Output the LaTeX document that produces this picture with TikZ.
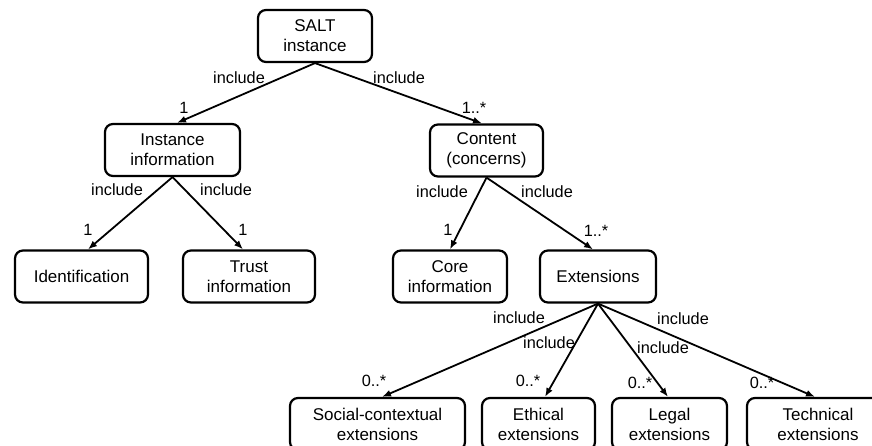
\documentclass[tikz,border=0pt]{standalone}
\usepackage{fontspec}
\setmainfont{Liberation Sans}
\usetikzlibrary{arrows.meta}
\begin{document}
\begin{tikzpicture}[x=1pt,y=-1pt,
  box/.style={draw, line width=2.2pt, rounded corners=8pt, align=center,
    font=\fontsize{17}{20}\selectfont, minimum height=52pt, inner sep=0pt},
  conn/.style={-{Latex[length=9pt,width=7pt]}, line width=1.8pt},
  lbl/.style={font=\fontsize{16.3}{19}\selectfont, inner sep=0pt}]
\useasboundingbox (0,0) rectangle (872,446);
\clip (0,0) rectangle (872,446);

% tree nodes
\node[box, minimum width=114pt] (salt) at (315,36) {SALT\\instance};
\node[box, minimum width=135pt] (inst) at (172.5,150) {Instance\\information};
\node[box, minimum width=113pt] (cont) at (486.5,150.5) {Content\\(concerns)};
\node[box, minimum width=133pt] (ident) at (81.5,276.5) {Identification};
\node[box, minimum width=132pt] (trust) at (249,276.5) {Trust\\information};
\node[box, minimum width=114pt] (core) at (450,276.5) {Core\\information};
\node[box, minimum width=116pt] (ext) at (598,276.5) {Extensions};
\node[box, minimum width=175pt] (soc) at (377.5,424) {Social-contextual\\extensions};
\node[box, minimum width=113pt] (eth) at (538.5,424) {Ethical\\extensions};
\node[box, minimum width=115pt] (leg) at (669.5,424) {Legal\\extensions};
\node[box, minimum width=142pt] (tech) at (818,424) {Technical\\extensions};

% connectors
\draw[conn] (salt.south) -- ([xshift=4.5pt]inst.north);
\draw[conn] (salt.south) -- ([xshift=-4.5pt]cont.north);
\draw[conn] (inst.south) -- ([xshift=6.5pt]ident.north);
\draw[conn] (inst.south) -- ([xshift=-6pt]trust.north);
\draw[conn] (cont.south) -- (core.north);
\draw[conn] (cont.south) -- ([xshift=-5pt]ext.north);
\draw[conn] (ext.south) -- ([xshift=4.5pt]soc.north);
\draw[conn] (ext.south) -- ([xshift=6.5pt]eth.north);
\draw[conn] (ext.south) -- ([xshift=-1.5pt]leg.north);
\draw[conn] (ext.south) -- ([xshift=-3pt]tech.north);

% connector labels
\node[lbl] (l1a) at (239,78) {include};
\node[lbl] (l1b) at (184,108) {1};
\node[lbl] (l2a) at (399,78) {include};
\node[lbl] (l2b) at (474,108) {1..*};
\node[lbl] (l3a) at (117,190) {include};
\node[lbl] (l3b) at (88,230) {1};
\node[lbl] (l4a) at (226,190) {include};
\node[lbl] (l4b) at (243,230) {1};
\node[lbl] (l5a) at (442,192) {include};
\node[lbl] (l5b) at (448,230) {1};
\node[lbl] (l6a) at (547,192) {include};
\node[lbl] (l6b) at (596,231) {1..*};
\node[lbl] (l7a) at (519,318) {include};
\node[lbl] (l7b) at (374,381) {0..*};
\node[lbl] (l8a) at (549,343) {include};
\node[lbl] (l8b) at (528,381) {0..*};
\node[lbl] (l9a) at (663,348) {include};
\node[lbl] (l9b) at (640,383) {0..*};
\node[lbl] (l10a) at (683,319) {include};
\node[lbl] (l10b) at (762,383) {0..*};
\end{tikzpicture}
\end{document}
